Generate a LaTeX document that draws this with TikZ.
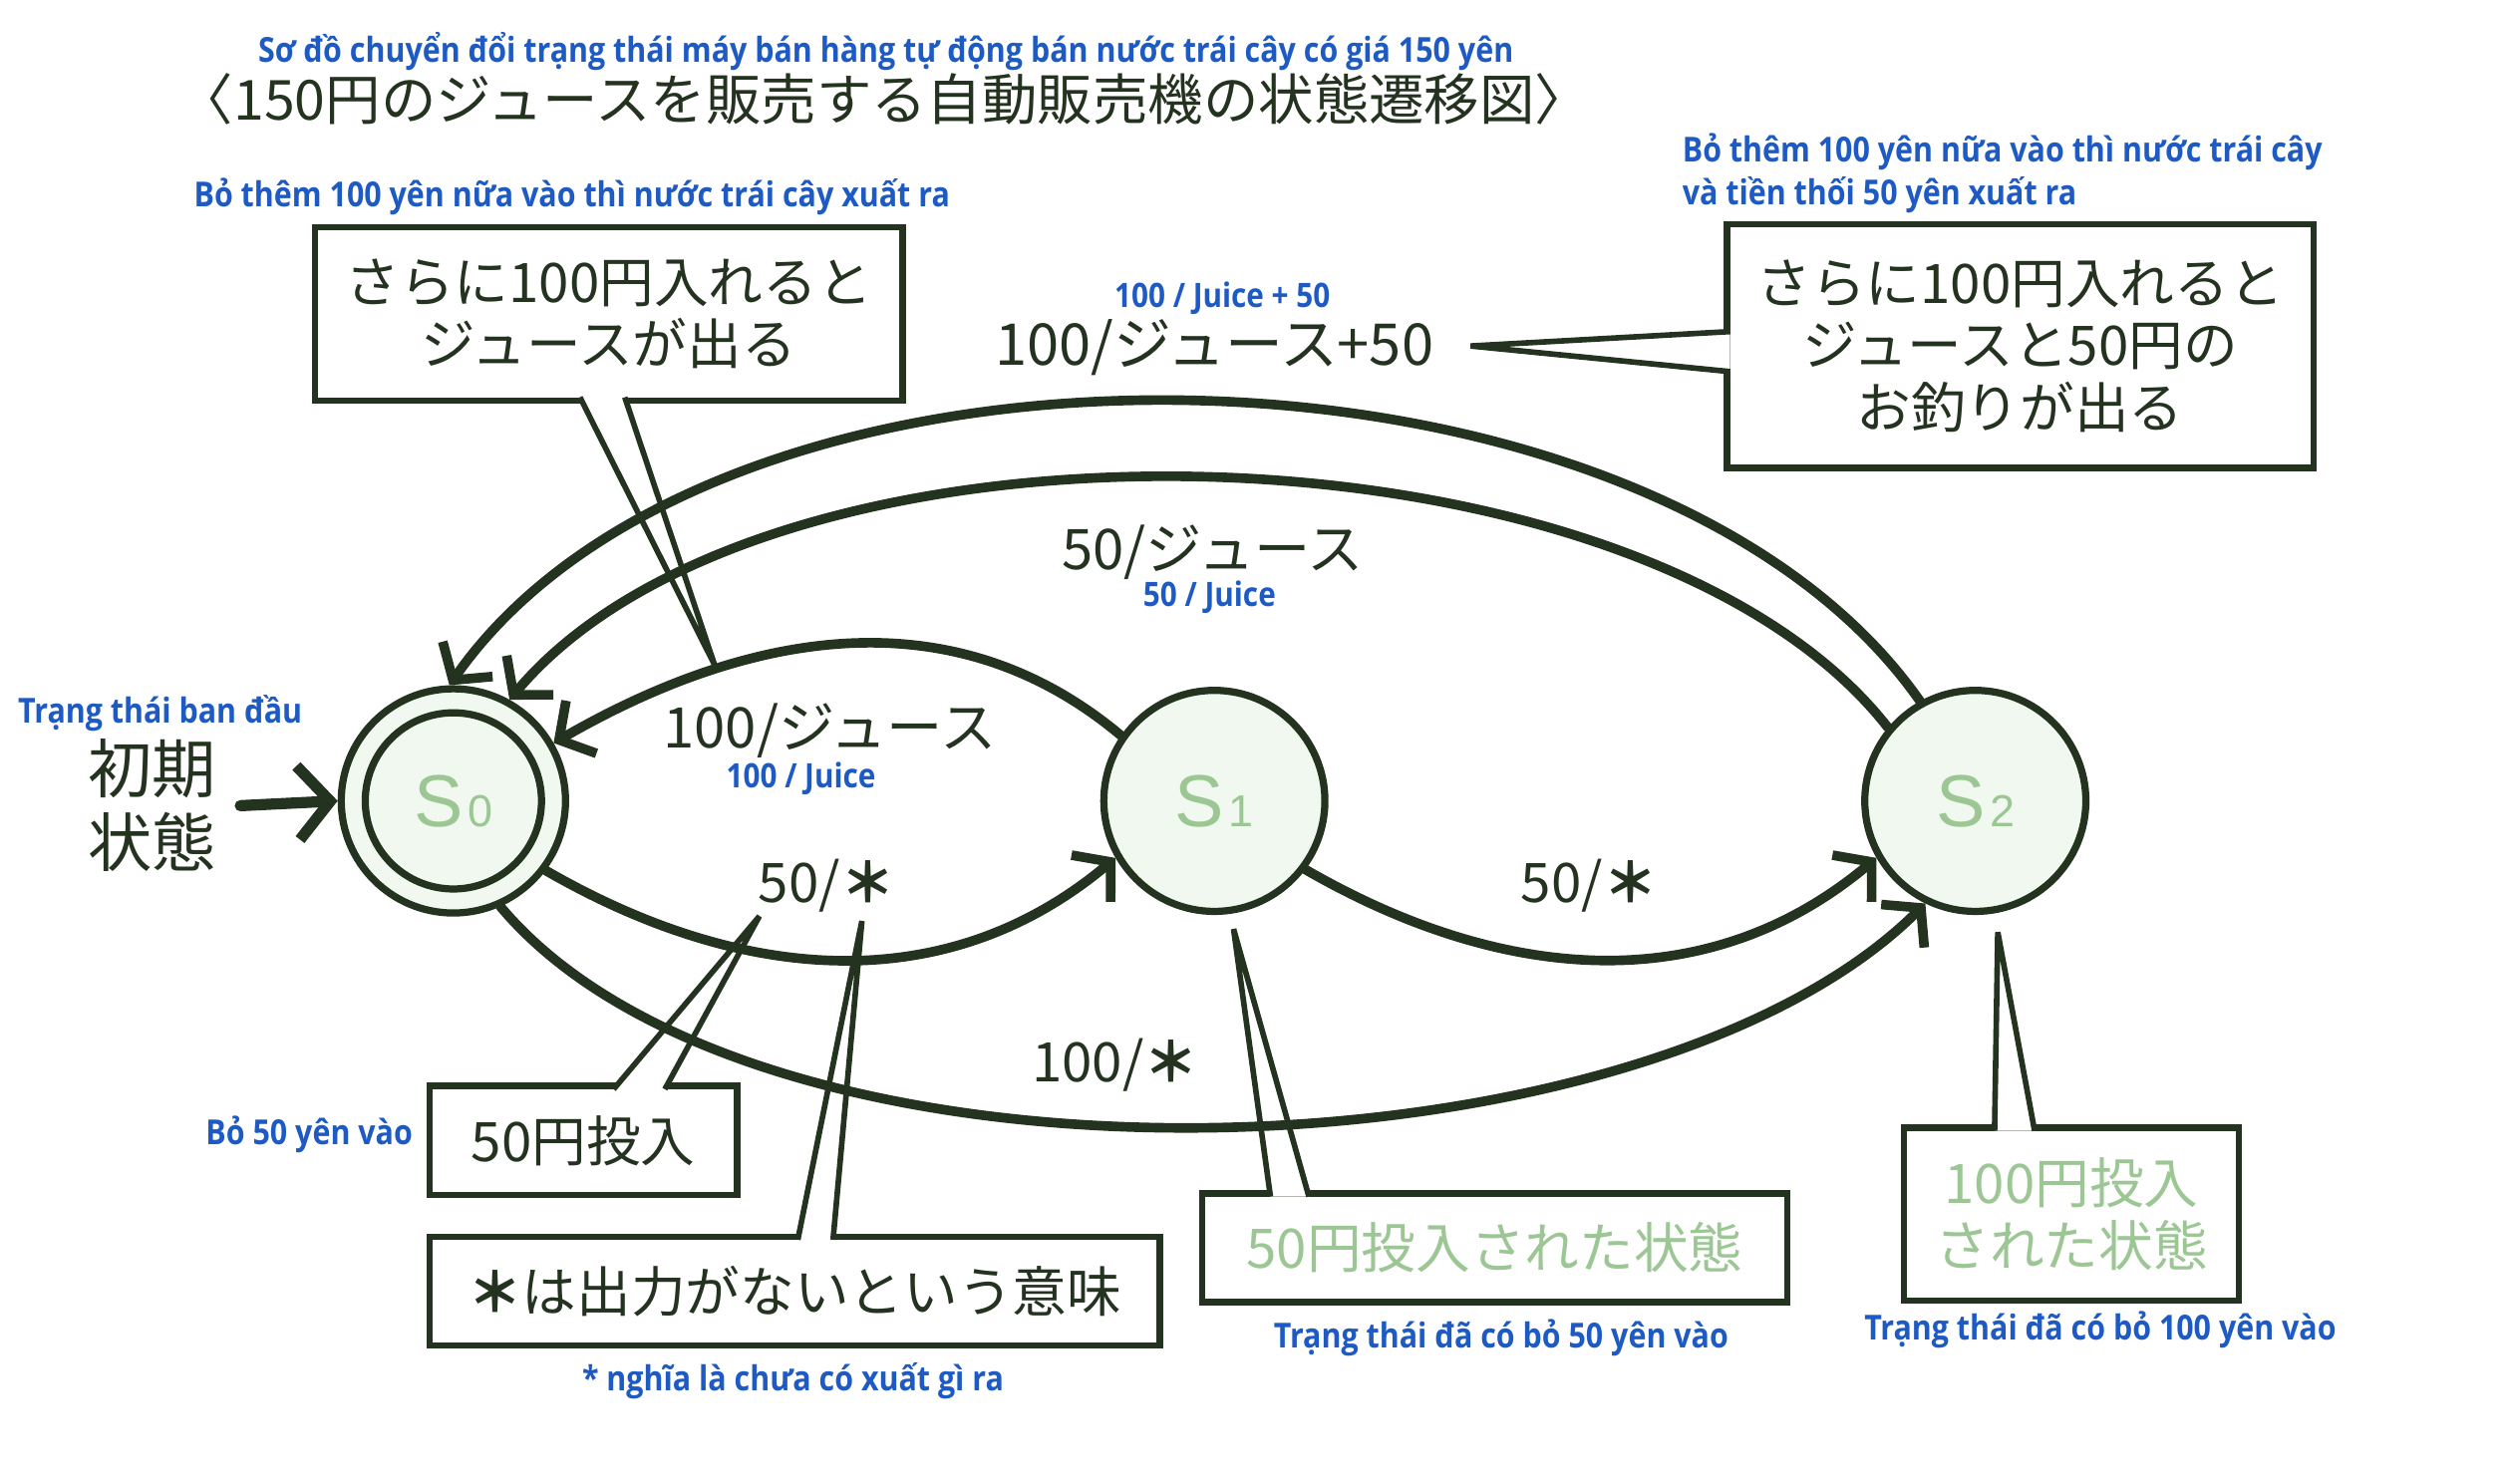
\documentclass[tikz,border=0pt]{standalone}
\usepackage{fontspec}
\setmainfont{Liberation Sans}
\newfontfamily\jpfont{Noto Sans CJK JP}
\newfontfamily\vnfont[FakeStretch=0.88]{Open Sans}
\usetikzlibrary{arrows.meta}
\definecolor{ink}{RGB}{36,51,31}
\definecolor{statefill}{RGB}{241,248,239}
\definecolor{statetext}{RGB}{156,199,149}
\definecolor{note}{RGB}{30,90,195}
\newcommand{\statename}[1]{{\fontsize{46}{46}\selectfont S}\hspace{3pt}{\fontsize{28}{28}\selectfont #1}}
\newcommand{\nooutput}{{\bfseries ＊}}

\begin{document}
\begin{tikzpicture}[x=1pt,y=1pt,
  every node/.style={inner sep=0pt},
  state/.style={circle,draw=ink,line width=4.5pt,fill=statefill,text=statetext,minimum size=138pt},
  jp/.style={font=\jpfont\fontsize{34}{39}\selectfont,text=ink,align=center},
  jpg/.style={jp,text=statetext},
  vn/.style={font=\vnfont\bfseries\fontsize{21.5}{27}\selectfont,text=note,align=center},
  vnsmall/.style={vn,font=\vnfont\bfseries\fontsize{21}{26}\selectfont},
  box/.style={draw=ink,line width=4pt,fill=white,outer sep=0pt},
  tail/.style={draw=ink,line width=3.5pt,fill=white},
  edge/.style={draw=ink,line width=6pt,line cap=round,-{Straight Barb[length=16pt,width=38pt]}},
]
  \useasboundingbox (0,0) rectangle (1568,-926);

  \node[vn] (titlevn) at (553,-32) {Sơ đồ chuyển đổi trạng thái máy bán hàng tự động bán nước trái cây có giá 150 yên};
  \node[jp,font=\jpfont\fontsize{34.5}{39}\selectfont] (title) at (552,-62) {〈150円のジュースを販売する自動販売機の状態遷移図〉};

  \node[box,jp,minimum width=367pt,minimum height=108pt] (tl) at (380,-196) {さらに100円入れると\\ジュースが出る};
  \coordinate (tltip) at (446,-415);
  \filldraw[tail] ([xshift=-18pt,yshift=2pt]tl.south) -- (tltip) -- ([xshift=10pt,yshift=2pt]tl.south);
  \node[vn] (tlnote) at (357,-123) {Bỏ thêm 100 yên nữa vào thì nước trái cây xuất ra};

  \node[box,jp,minimum width=366pt,minimum height=152pt] (tr) at (1261,-216) {さらに100円入れると\\ジュースと50円の\\お釣りが出る};
  \coordinate (trtip) at (918,-216);
  \filldraw[tail] ([xshift=2pt,yshift=9pt]tr.west) -- (trtip) -- ([xshift=2pt,yshift=-16pt]tr.west);
  \node[vn,align=left,anchor=north west] (trnote) at (1050,-83) {Bỏ thêm 100 yên nữa vào thì nước trái cây\\và tiền thối 50 yên xuất ra};

  \node[box,jp,minimum width=192pt,minimum height=68pt] (n50) at (364,-712) {50円投入};
  \coordinate (n50tip) at (474,-572);
  \filldraw[tail] ([xshift=19pt,yshift=-2pt]n50.north) -- (n50tip) -- ([xshift=51pt,yshift=-2pt]n50.north);
  \node[vn] (n50note) at (193,-708) {Bỏ 50 yên vào};

  \node[box,jp,minimum width=456pt,minimum height=68pt] (nstar) at (496,-806) {\nooutput は出力がないという意味};
  \coordinate (nstartip) at (538,-575);
  \filldraw[tail] ([xshift=2pt,yshift=-2pt]nstar.north) -- (nstartip) -- ([xshift=24pt,yshift=-2pt]nstar.north);
  \node[vn] (nstarnote) at (495,-862) {* nghĩa là chưa có xuất gì ra};

  \node[box,jpg,minimum width=365pt,minimum height=68pt] (ns1) at (933,-779) {50円投入された状態};
  \coordinate (ns1tip) at (770,-580);
  \filldraw[tail] ([xshift=-140pt,yshift=-2pt]ns1.north) -- (ns1tip) -- ([xshift=-116pt,yshift=-2pt]ns1.north);
  \node[vn] (ns1note) at (937,-835) {Trạng thái đã có bỏ 50 yên vào};

  \node[box,jpg,minimum width=209pt,minimum height=108pt] (ns2) at (1293,-758) {100円投入\\された状態};
  \coordinate (ns2tip) at (1247,-582);
  \filldraw[tail] ([xshift=-48pt,yshift=-2pt]ns2.north) -- (ns2tip) -- ([xshift=-23pt,yshift=-2pt]ns2.north);
  \node[vn] (ns2note) at (1311,-830) {Trạng thái đã có bỏ 100 yên vào};

  \node[state,minimum size=140pt] (s0) at (283,-500) {};
  \node[state,minimum size=110pt] (s0in) at (283,-500) {\statename{0}};
  \node[state] (s1) at (758,-500) {\statename{1}};
  \node[state] (s2) at (1233,-500) {\statename{2}};

  \node[jp,font=\jpfont\fontsize{40}{46}\selectfont] (init) at (95,-503) {初期\\状態};
  \node[vn] (initnote) at (100,-445) {Trạng thái ban đầu};
  \coordinate (initstart) at (150,-503);
  \draw[edge,line width=7pt,-{Straight Barb[length=20pt,width=46pt]}] (initstart) -- (s0.west);

  \draw[edge] (s0.-37) to[out=-30,in=-140] (s1.-150);
  \draw[edge] (s1.-37) to[out=-30,in=-140] (s2.-150);
  \draw[edge] (s0.-66) to[out=-50,in=-135,looseness=0.72] (s2.-116);
  \draw[edge] (s1.145) to[out=140,in=30] (s0.30);
  \draw[edge] (s2.140) to[out=128,in=50,looseness=0.75] (s0.61);
  \draw[edge] (s2.119) to[out=125,in=55,looseness=0.825] (s0.92);

  \node[jp] (l01) at (516,-553) {50/\nooutput};
  \node[jp] (l12) at (992,-553) {50/\nooutput};
  \node[jp] (l02) at (696,-665) {100/\nooutput};
  \node[jp,font=\jpfont\fontsize{35}{39}\selectfont] (l10) at (518,-456) {100/ジュース};
  \node[vnsmall] (l10vn) at (500,-486) {100 / Juice};
  \node[jp,font=\jpfont\fontsize{35}{39}\selectfont] (l20) at (757,-345) {50/ジュース};
  \node[vnsmall] (l20vn) at (755,-373) {50 / Juice};
  \node[jp,font=\jpfont\fontsize{36}{39}\selectfont] (l20b) at (758,-217) {100/ジュース+50};
  \node[vnsmall] (l20bvn) at (763,-186) {100 / Juice + 50};
\end{tikzpicture}
\end{document}
